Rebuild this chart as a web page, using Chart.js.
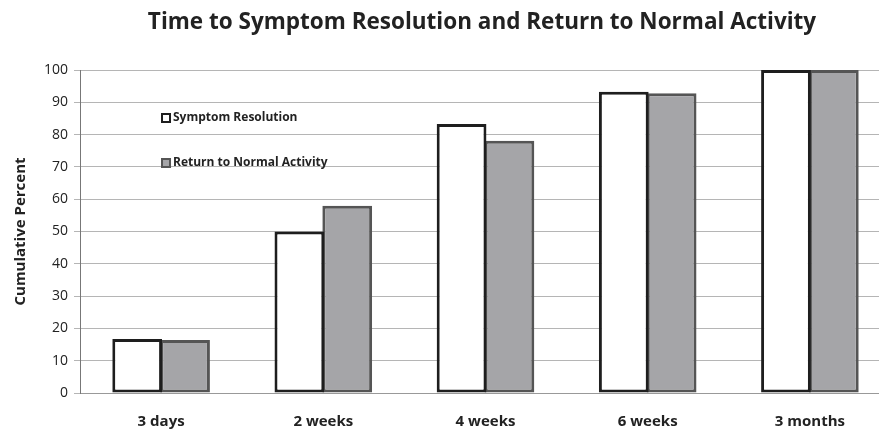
<!DOCTYPE html>
<html>
<head>
<meta charset="utf-8">
<script src="https://cdn.jsdelivr.net/npm/chart.js@4/dist/chart.umd.min.js"></script>
<style>
  html, body { margin: 0; padding: 0; background: #fff; overflow: hidden; }
  /* the original figure is cut off on the right and at the bottom */
  #wrap { width: 891px; height: 451px; }
</style>
</head>
<body>
<div id="wrap"><canvas id="myChart"></canvas></div>
<script>
const categories = ['3 days', '2 weeks', '4 weeks', '6 weeks', '3 months']
const symptomResolution = [16.7, 50, 83.3, 93.3, 100]
const returnToNormal = [16.4, 58, 78.1, 92.8, 100]
const seriesNames = ['Symptom Resolution', 'Return to Normal Activity']
const chartTitle = 'Time to Symptom Resolution and Return to Normal Activity'

const fontFamily = '"Open Sans", "Noto Sans", sans-serif'

// title is off centre in the original, so draw it by hand
const topTitle = {
  id: 'topTitle',
  afterDraw(chart) {
    const c = chart.ctx
    c.save()
    c.fillStyle = '#222'
    c.font = 'bold 22.5px ' + fontFamily
    c.textAlign = 'center'
    c.textBaseline = 'middle'
    c.fillText(chartTitle, 482, 23)
    c.restore()
  }
}

// legend sits inside the plot, top left
const insideLegend = {
  id: 'insideLegend',
  afterDraw(chart) {
    const c = chart.ctx
    const area = chart.chartArea
    const x = area.left + 82
    const offsets = [48, 93]
    c.save()
    chart.data.datasets.forEach((ds, i) => {
      const y = area.top + offsets[i]
      c.fillStyle = ds.backgroundColor
      c.strokeStyle = ds.borderColor
      c.lineWidth = 2
      c.fillRect(x, y - 4, 8, 8)
      c.strokeRect(x, y - 4, 8, 8)
      c.fillStyle = '#222'
      c.font = 'bold 12px ' + fontFamily
      c.textBaseline = 'middle'
      c.fillText(ds.label, x + 11, y)
    })
    c.restore()
  }
}

const ctx = document.getElementById('myChart').getContext('2d')

const myChart = new Chart(ctx, {
  type: 'bar',
  data: {
    labels: categories,
    datasets: [{
      label: seriesNames[0],
      data: symptomResolution,
      backgroundColor: '#ffffff',
      borderColor: '#1e1e1e',
      borderWidth: 3,
      borderSkipped: false
    }, {
      label: seriesNames[1],
      data: returnToNormal,
      backgroundColor: '#a5a5a8',
      borderColor: '#555555',
      borderWidth: 3,
      borderSkipped: false
    }]
  },
  options: {
    responsive: true,
    maintainAspectRatio: false,
    animation: false,
    layout: { padding: { left: 8, right: 0, top: 70, bottom: 0 } },
    datasets: {
      bar: { categoryPercentage: 0.59, barPercentage: 1.04 }
    },
    plugins: {
      legend: { display: false },
      tooltip: { enabled: false },
      title: { display: false }
    },
    scales: {
      x: {
        grid: { display: false, drawTicks: false },
        border: { color: '#999', width: 1 },
        ticks: {
          color: '#222',
          padding: 20,
          font: { family: fontFamily, size: 15, weight: 'bold' }
        }
      },
      y: {
        min: 0,
        max: 100,
        ticks: {
          stepSize: 10,
          color: '#222',
          padding: 6,
          font: { family: fontFamily, size: 14 }
        },
        grid: { color: '#b5b5b5', lineWidth: 1, tickLength: 6 },
        border: { color: '#777', width: 1 },
        title: {
          display: true,
          text: 'Cumulative Percent',
          color: '#222',
          padding: { bottom: 8 },
          font: { family: fontFamily, size: 15, weight: 'bold' }
        }
      }
    }
  },
  plugins: [topTitle, insideLegend]
})
</script>
</body>
</html>
